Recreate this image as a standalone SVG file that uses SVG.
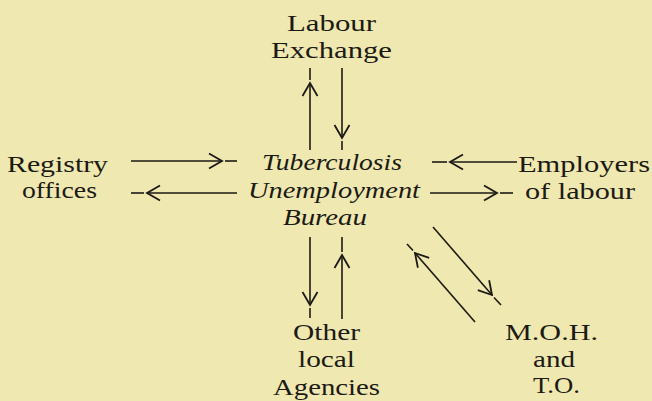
<svg xmlns="http://www.w3.org/2000/svg" width="652" height="401" viewBox="0 0 652 401">
<defs>
<style>
text{font-family:'Liberation Serif','Times New Roman',Times,serif;font-size:24px;fill:#1c1a14}
.i{font-style:italic}
.ln{stroke:#1c1a14;stroke-width:1.6;fill:none}
.h{marker-end:url(#chev)}
</style>
<marker id="chev" markerUnits="userSpaceOnUse" viewBox="-16 -10 18 20" refX="0" refY="0" markerWidth="18" markerHeight="20" orient="auto">
<path d="M-13,-7.5 L0,0 L-13,7.5" fill="none" stroke="#1c1a14" stroke-width="1.8"/>
</marker>
</defs>
<rect width="652" height="401" fill="#efe8b1"/>
<g id="labour-exchange">
<text x="287" y="31" textLength="89" lengthAdjust="spacingAndGlyphs">Labour</text>
<text x="271" y="58" textLength="121" lengthAdjust="spacingAndGlyphs">Exchange</text>
</g>
<g id="registry-offices">
<text x="7" y="172" textLength="101" lengthAdjust="spacingAndGlyphs">Registry</text>
<text x="22" y="198" textLength="75" lengthAdjust="spacingAndGlyphs">offices</text>
</g>
<g id="bureau">
<text class="i" x="262" y="170" textLength="140" lengthAdjust="spacingAndGlyphs">Tuberculosis</text>
<text class="i" x="248" y="198" textLength="172" lengthAdjust="spacingAndGlyphs">Unemployment</text>
<text class="i" x="283" y="225" textLength="84" lengthAdjust="spacingAndGlyphs">Bureau</text>
</g>
<g id="employers">
<text x="518" y="172" textLength="132" lengthAdjust="spacingAndGlyphs">Employers</text>
<text x="525" y="199" textLength="110" lengthAdjust="spacingAndGlyphs">of labour</text>
</g>
<g id="other-agencies">
<text x="293" y="340" textLength="67" lengthAdjust="spacingAndGlyphs">Other</text>
<text x="298" y="367" textLength="57" lengthAdjust="spacingAndGlyphs">local</text>
<text x="273" y="395" textLength="107" lengthAdjust="spacingAndGlyphs">Agencies</text>
</g>
<g id="moh">
<text x="505" y="340" textLength="93" lengthAdjust="spacingAndGlyphs">M.O.H.</text>
<text x="533" y="367" textLength="42" lengthAdjust="spacingAndGlyphs">and</text>
<text x="533" y="393" textLength="47" lengthAdjust="spacingAndGlyphs">T.O.</text>
</g>
<g id="connectors">
<path class="ln h" d="M310,150 L310,83"/>
<path class="ln" d="M310,80 L310,68"/>
<path class="ln h" d="M342,68 L342,138"/>
<path class="ln" d="M342,141 L342,150"/>
<path class="ln h" d="M131,161 L222,161"/>
<path class="ln" d="M225,161 L237,161"/>
<path class="ln h" d="M237,193 L147,193"/>
<path class="ln" d="M144,193 L131,193"/>
<path class="ln h" d="M517,162 L450,162"/>
<path class="ln" d="M447,162 L432,162"/>
<path class="ln h" d="M430,193 L497,193"/>
<path class="ln" d="M500,193 L513,193"/>
<path class="ln h" d="M310,237 L310,305"/>
<path class="ln" d="M310,308 L310,318"/>
<path class="ln h" d="M342,319 L342,255"/>
<path class="ln" d="M342,252 L342,237"/>
<path class="ln h" d="M475,322 L415,253"/>
<path class="ln" d="M413,250.5 L407,244"/>
<path class="ln h" d="M433,227 L492,295"/>
<path class="ln" d="M494,297.5 L501,305"/>
</g>
</svg>
